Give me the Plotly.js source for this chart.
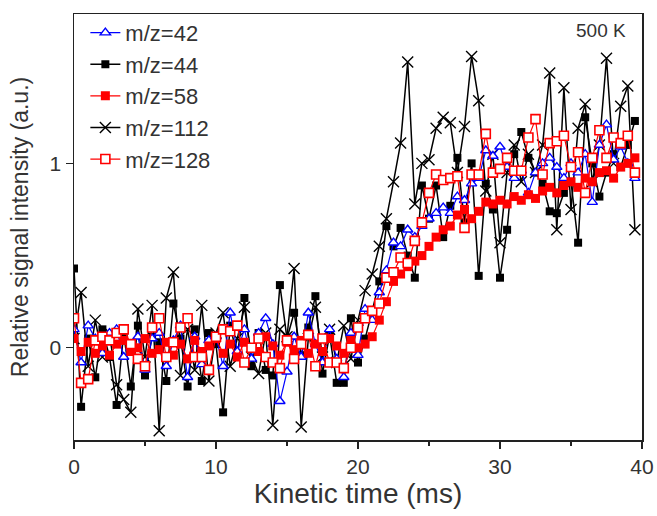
<!DOCTYPE html>
<html>
<head>
<meta charset="utf-8">
<script src="https://cdn.plot.ly/plotly-3.0.1.min.js"></script>
<style>html,body{margin:0;padding:0;background:#fff;}#chart{width:657px;height:516px;}</style>
</head>
<body>
<div id="chart"></div>
<script>
// Kinetic time (ms)
const time = [0,0.5,1,1.5,2,2.5,3,3.5,4,4.5,5,5.5,6,6.5,7,7.5,8,8.5,9,9.5,
  10,10.5,11,11.5,12,12.5,13,13.5,14,14.5,15,15.5,16,16.5,17,17.5,18,18.5,19,19.5,
  20,20.5,21,21.5,22,22.5,23,23.5,24,24.5,25,25.5,26,26.5,27,27.5,28,28.5,29,29.5,
  30,30.5,31,31.5,32,32.5,33,33.5,34,34.5,35,35.5,36,36.5,37,37.5,38,38.5,39,39.5];

const mz42 = [0.1,-0.08,0.12,0.05,-0.03,0.08,0.1,-0.05,0.0,0.06,-0.12,0.05,0.08,-0.1,0.04,0.12,-0.16,0.06,-0.09,0.04,
  0.06,-0.1,0.19,-0.02,0.1,-0.06,0.08,0.16,0.02,-0.29,-0.13,0.06,-0.05,0.19,0.02,-0.08,0.1,-0.06,-0.16,0.08,-0.04,0.21,
  0.15,0.3,0.42,0.57,0.55,0.64,0.6,0.66,0.7,0.73,0.76,0.73,0.82,0.8,0.89,0.92,1.07,1.04,1.09,0.98,
  0.92,0.96,0.84,0.95,1.0,1.03,0.98,0.92,1.0,0.95,1.05,0.79,1.1,1.21,1.02,1.09,1.0,0.92];

const mz44 = [0.43,-0.32,0.05,-0.16,0.1,-0.05,-0.31,0.08,-0.21,0.12,-0.15,0.06,0.03,-0.18,0.24,0.05,-0.21,0.1,-0.18,0.08,
  0.02,-0.35,0.12,-0.05,0.27,-0.1,0.08,-0.12,-0.15,0.34,0.05,0.19,-0.04,0.11,0.28,-0.14,0.07,-0.19,-0.19,0.16,-0.08,0.05,
  0.2,0.36,0.66,0.55,0.65,0.5,0.38,0.88,0.7,0.88,0.6,0.77,1.03,0.68,1.0,0.39,0.89,0.75,0.38,0.64,
  1.05,1.17,1.03,0.95,0.89,0.74,0.73,0.84,0.9,0.57,1.25,1.0,0.82,0.95,1.05,0.98,1.1,1.23];

const mz58 = [0.05,-0.02,0.03,-0.03,0.01,-0.04,0.02,0.04,-0.02,0.00,0.05,-0.03,-0.01,0.03,-0.04,0.02,-0.06,0.04,-0.02,0.01,
  0.05,-0.03,0.02,-0.05,0.03,0.00,-0.02,0.06,0.01,-0.04,0.03,-0.01,0.04,-0.03,0.02,-0.02,0.05,0.01,-0.03,0.04,0.00,0.02,
  0.06,0.15,0.25,0.36,0.4,0.44,0.47,0.5,0.55,0.6,0.64,0.66,0.72,0.75,0.7,0.74,0.79,0.78,0.8,0.78,
  0.82,0.8,0.83,0.81,0.85,0.87,0.84,0.88,0.9,0.87,0.92,0.9,0.95,0.96,0.92,0.98,1.0,1.03];

const mz112 = [0.05,0.3,-0.1,0.15,-0.05,0.08,-0.2,-0.28,-0.35,0.21,-0.05,0.23,-0.45,0.27,0.41,-0.15,0.1,-0.12,0.23,-0.18,
  0.08,0.19,-0.1,0.05,0.22,-0.05,-0.14,0.08,-0.42,0.1,0.06,0.43,-0.43,0.05,0.22,-0.05,0.1,-0.08,0.12,-0.06,0.15,0.31,
  0.4,0.55,0.7,0.9,1.11,1.55,0.78,1.0,1.02,1.19,1.25,1.22,0.95,1.2,1.58,1.34,0.85,1.05,0.57,0.95,
  1.1,0.9,1.05,0.95,1.1,1.49,0.64,1.41,0.75,1.19,1.32,0.9,1.1,1.57,1.0,1.31,1.42,0.64];

const mz128 = [0.16,-0.19,-0.17,0.04,0.06,0.04,0.08,0.1,0.02,-0.06,-0.1,0.11,0.16,-0.05,0.03,0.11,0.16,-0.05,-0.05,-0.12,
  0.06,0.1,0.09,0.12,-0.08,0.0,0.05,-0.05,-0.08,-0.11,0.04,-0.06,0.02,0.07,-0.1,0.05,-0.08,-0.08,-0.11,0.0,0.11,0.16,
  0.2,0.24,0.38,0.41,0.49,0.46,0.58,0.68,0.84,0.94,0.91,0.92,0.93,0.65,0.94,0.94,1.16,0.95,0.97,1.03,
  0.96,0.96,1.14,1.24,0.94,1.11,1.12,1.15,0.98,1.06,0.84,1.03,1.18,1.03,1.14,1.11,1.15,0.95];

const seriesNames = ['m/z=42','m/z=44','m/z=58','m/z=112','m/z=128'];
const xTicks = [0,10,20,30,40];
const yTicks = [0,1];

const FONT = 'Liberation Sans, Arial, sans-serif';
const TXT = '#333333';

function tr(name, y, color, symbol, size, fill, lw, rank, mlw) {
  return {
    x: time, y: y, name: name, type: 'scatter', mode: 'lines+markers',
    line: {color: color, width: lw},
    marker: {symbol: symbol, size: size, color: fill, line: {color: color, width: mlw}},
    legendrank: rank, legendgroup: name
  };
}

const data = [
  tr(seriesNames[3], mz112, '#000000', 'x-thin-open', 11, '#000000', 1.5, 4, 1.4),
  tr(seriesNames[1], mz44, '#000000', 'square', 8, '#000000', 1.5, 2, 0),
  tr(seriesNames[0], mz42, '#0000ff', 'triangle-up', 9, '#ffffff', 1.2, 1, 1.4),
  tr(seriesNames[2], mz58, '#ff0000', 'square', 9, '#ff0000', 1.2, 3, 0),
  tr(seriesNames[4], mz128, '#ff0000', 'square', 9, '#ffffff', 1.2, 5, 1.6)
];

const layout = {
  width: 657, height: 516,
  margin: {l: 74, r: 15, t: 14, b: 76},
  paper_bgcolor: '#ffffff', plot_bgcolor: '#ffffff',
  font: {family: FONT, color: TXT},
  showlegend: true,
  legend: {
    x: 0.02, y: 1.005, xanchor: 'left', yanchor: 'top',
    font: {family: FONT, size: 22, color: TXT},
    bgcolor: 'rgba(0,0,0,0)', borderwidth: 0,
    tracegroupgap: 0, itemwidth: 30
  },
  xaxis: {
    range: [0, 40], tickvals: xTicks, ticktext: xTicks.map(String),
    ticks: 'outside', ticklen: 7, tickwidth: 1.3, tickcolor: '#222',
    minor: {tickvals: [5,15,25,35], ticks: 'outside', ticklen: 4, tickwidth: 1.2, tickcolor: '#222'},
    showline: true, linecolor: '#222', linewidth: 1.5, mirror: true,
    showgrid: false, zeroline: false,
    tickfont: {family: FONT, size: 21, color: TXT},
    title: {text: 'Kinetic time (ms)', font: {family: FONT, size: 28, color: TXT}, standoff: 6}
  },
  yaxis: {
    range: [-0.5, 1.81], tickvals: yTicks, ticktext: yTicks.map(String),
    ticks: 'outside', ticklen: 7, tickwidth: 1.3, tickcolor: '#222',
    showline: true, linecolor: '#222', linewidth: 1.5, mirror: true,
    showgrid: false, zeroline: false,
    tickfont: {family: FONT, size: 21, color: TXT},
    title: {text: 'Relative signal intensity (a.u.)', font: {family: FONT, size: 23, color: TXT}, standoff: 14}
  },
  annotations: [{
    text: '500 K', xref: 'paper', yref: 'paper', x: 0.975, y: 0.99,
    xanchor: 'right', yanchor: 'top', showarrow: false,
    font: {family: FONT, size: 19, color: TXT}
  }]
};

Plotly.newPlot('chart', data, layout, {displayModeBar: false, staticPlot: true});
</script>
</body>
</html>
